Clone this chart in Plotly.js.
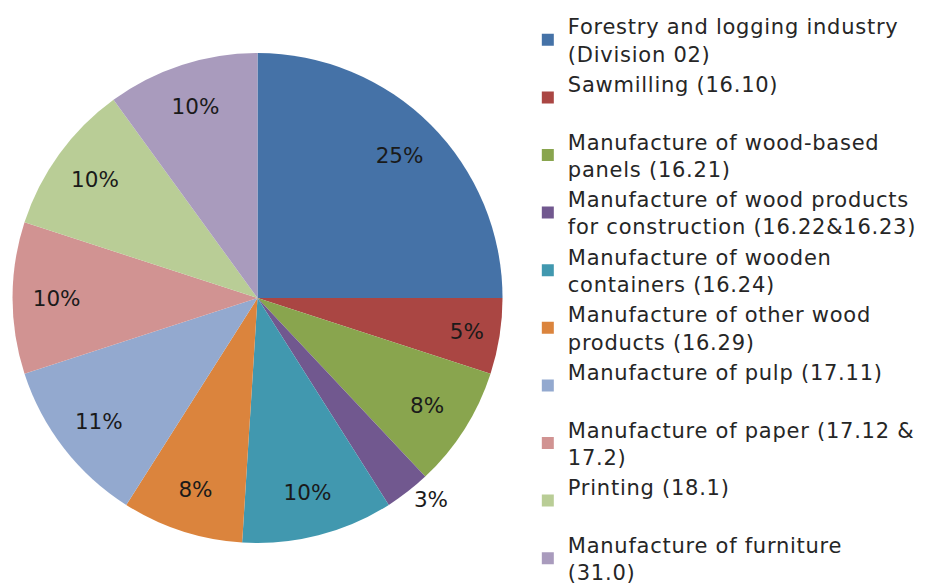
<!DOCTYPE html>
<html>
<head>
<meta charset="utf-8">
<script src="https://cdn.plot.ly/plotly-3.0.1.min.js"></script>
<style>html,body{margin:0;padding:0;background:#fff;}#chart{width:926px;height:585px;}
.legendtext{letter-spacing:0.75px;}</style>
</head>
<body>
<div id="chart"></div>
<script>
var categories = [
  "Forestry and logging industry<br>(Division 02)",
  "Sawmilling (16.10)<br>\u00a0",
  "Manufacture of wood-based<br>panels (16.21)",
  "Manufacture of wood products<br>for construction (16.22&16.23)",
  "Manufacture of wooden<br>containers (16.24)",
  "Manufacture of other wood<br>products (16.29)",
  "Manufacture of pulp (17.11)<br>\u00a0",
  "Manufacture of paper (17.12 &<br>17.2)",
  "Printing (18.1)<br>\u00a0",
  "Manufacture of furniture<br>(31.0)"
];
var shares = [25, 5, 8, 3, 10, 8, 11, 10, 10, 10];
var sliceColors = ["#4572A7","#AA4643","#89A54E","#71588F","#4198AF","#DB843D","#93A9CF","#D19392","#B9CD96","#A99BBD"];
var labelPositions = ["inside","inside","inside","outside","inside","inside","inside","inside","inside","inside"];

var dom = {x: [0.0108, 0.5454], y: [0.0725, 0.9188]};
var fontFam = "'DejaVu Sans', sans-serif";

var base = {
  type: "pie", labels: categories, values: shares, sort: false,
  direction: "clockwise", rotation: 0, domain: dom,
  marker: {colors: sliceColors, line: {width: 0}},
  textinfo: "none", hoverinfo: "skip", showlegend: true
};
var textLayer = {
  type: "pie", labels: categories, values: shares, sort: false,
  direction: "clockwise", rotation: 0, domain: dom, hole: 0.64,
  marker: {colors: categories.map(function(){return "rgba(0,0,0,0)";}), line: {width: 0}},
  texttemplate: "%{percent:.0%}", textposition: labelPositions,
  insidetextorientation: "horizontal",
  textfont: {family: fontFam, size: 21.5, color: "#1a1a1a"},
  hoverinfo: "skip", showlegend: false
};

var layout = {
  width: 926, height: 585,
  margin: {l: 0, r: 0, t: 6, b: 0},
  paper_bgcolor: "#fff",
  font: {family: fontFam, color: "#262626"},
  legend: {
    x: 0.570, xanchor: "left", y: 1.0, yanchor: "top",
    font: {family: fontFam, size: 21, color: "#262626"},
    bgcolor: "rgba(0,0,0,0)", borderwidth: 0, tracegroupgap: 0
  }
};
Plotly.newPlot("chart", [base, textLayer], layout, {displayModeBar: false, staticPlot: true});
</script>
</body>
</html>
